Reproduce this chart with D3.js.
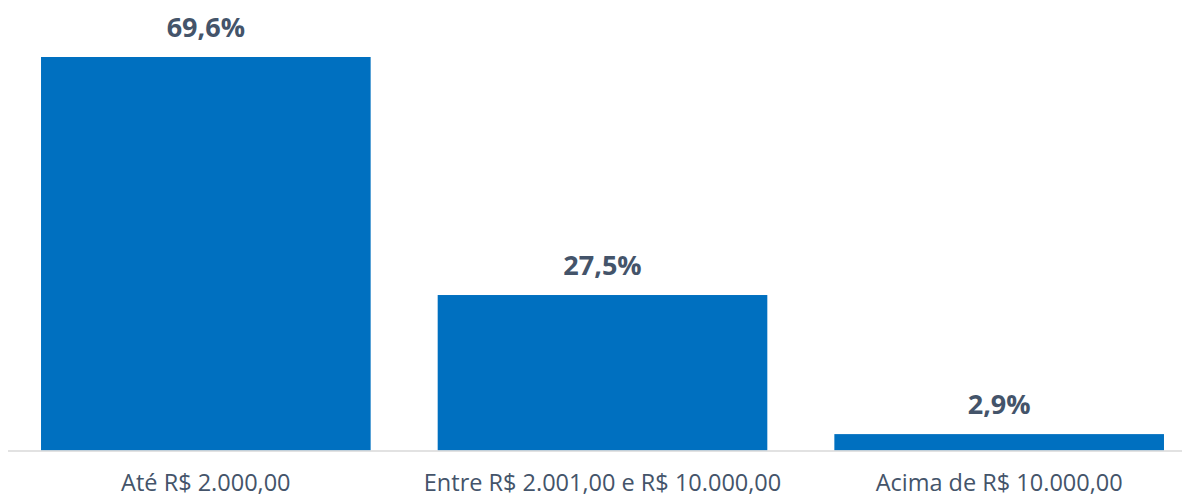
<html>
<head>
<meta charset="utf-8">
<script src="https://d3js.org/d3.v7.min.js"></script>
<style>
  body { margin: 0; background: #fff; }
  text { font-family: "Open Sans", sans-serif; }
</style>
</head>
<body>
<svg id="chart" width="1182" height="497"></svg>
<script>
    const categories = ["Até R$ 2.000,00", "Entre R$ 2.001,00 e R$ 10.000,00", "Acima de R$ 10.000,00"];
    const values = [69.6, 27.5, 2.9];
    const valueLabels = ["69,6%", "27,5%", "2,9%"];

    const svg = d3.select("#chart");
    const baseY = 450.5;

    const x = d3.scaleBand()
        .domain(categories)
        .range([7.5, 1197.5])
        .paddingInner(0.169)
        .paddingOuter(0.0845);

    // 69.6% spans from baseline up to y=57
    const y = d3.scaleLinear()
        .domain([0, 69.6])
        .range([baseY, 57]);

    const data = categories.map((c, i) => ({ cat: c, v: values[i], label: valueLabels[i] }));

    svg.append("g")
        .selectAll("rect")
        .data(data)
        .join("rect")
        .attr("x", d => x(d.cat))
        .attr("y", d => y(d.v))
        .attr("width", x.bandwidth())
        .attr("height", d => baseY - y(d.v))
        .attr("fill", "#0070C0");

    // axis line
    svg.append("line")
        .attr("x1", 8).attr("x2", 1182)
        .attr("y1", baseY + 0.5).attr("y2", baseY + 0.5)
        .attr("stroke", "#D9D9D9")
        .attr("stroke-width", 1.5);

    svg.append("g")
        .selectAll("text")
        .data(data)
        .join("text")
        .attr("x", d => x(d.cat) + x.bandwidth() / 2)
        .attr("y", d => y(d.v) - 20)
        .attr("text-anchor", "middle")
        .attr("fill", "#44546A")
        .attr("font-weight", "bold")
        .attr("font-size", "27px")
        .text(d => d.label);

    svg.append("g")
        .selectAll("text")
        .data(categories)
        .join("text")
        .attr("x", d => x(d) + x.bandwidth() / 2)
        .attr("y", 491)
        .attr("text-anchor", "middle")
        .attr("fill", "#44546A")
        .attr("font-size", "23.5px")
        .text(d => d);
</script>
</body>
</html>
